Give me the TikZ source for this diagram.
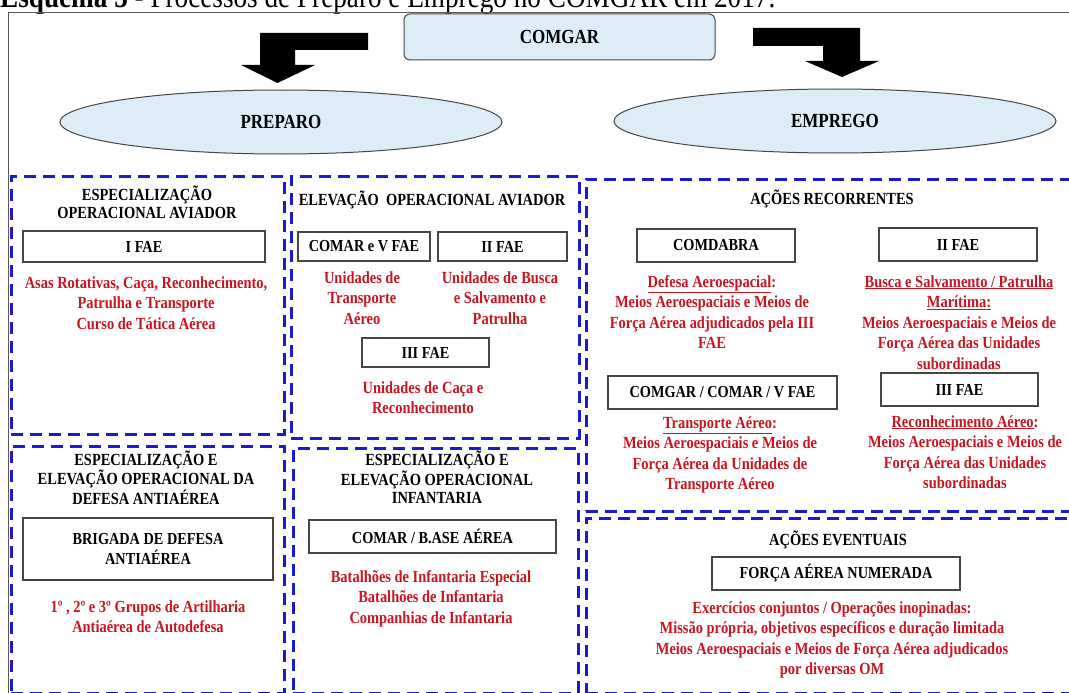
\documentclass[tikz,border=0pt]{standalone}
\usepackage{fontspec}
\setmainfont{Liberation Serif}[FakeStretch=0.85]
\usetikzlibrary{shapes.geometric}
\definecolor{dblue}{RGB}{24,28,205}
\definecolor{lblue}{RGB}{220,237,248}
\definecolor{dred}{RGB}{200,22,32}
\definecolor{bgray}{RGB}{70,70,70}
\tikzset{
  panel/.style={draw=dblue, line width=2.8pt, dash pattern=on 12pt off 7pt, inner sep=0pt, anchor=north west},
  box/.style={draw=bgray, line width=1.3pt, fill=white, inner sep=0pt, align=center, font=\bfseries\fontsize{16.8}{19.5}\selectfont},
  ttl/.style={align=center, font=\bfseries\fontsize{17}{18}\selectfont, inner sep=0pt, anchor=base},
  redtxt/.style={align=center, text=dred, font=\bfseries\fontsize{17}{20.5}\selectfont, inner sep=0pt, anchor=base},
  blob/.style={draw=bgray, fill=lblue, line width=1pt, inner sep=0pt, font=\bfseries\fontsize{20}{22}\selectfont},
}
\begin{document}
\begin{tikzpicture}[x=1pt,y=-1pt]
\useasboundingbox (0,0) rectangle (1069,693);
\fill[white] (0,0) rectangle (1069,693);
% caption (cut at the top)
\node[anchor=base west, inner sep=0pt, font=\fontsize{32}{32}\selectfont] (cap) at (0,8) {\textbf{Esquema 5} - Processos de Preparo e Emprego no COMGAR em 2017.};
% outer frame
\draw[draw=black!65, line width=1pt] (8,13) rectangle (1080,710);
% top
\node[blob, rounded corners=6pt, minimum width=311pt, minimum height=46pt] (comgar) at (559.5,37) {COMGAR};
\node[blob, ellipse, minimum width=442pt, minimum height=64pt] (preparo) at (281,122) {PREPARO};
\node[blob, ellipse, minimum width=442pt, minimum height=64pt] (emprego) at (835,121) {EMPREGO};
\fill[black] (260,33) -- (368,33) -- (368,50) -- (295,50) -- (295,65) -- (315,65) -- (277.5,83) -- (241,65) -- (260,65) -- cycle;
\fill[black] (753,28) -- (860,28) -- (860,61) -- (879,61) -- (842,77) -- (805,61) -- (823,61) -- (823,46) -- (753,46) -- cycle;
% panels
\node[panel, minimum width=273pt, minimum height=258pt] (p1) at (10,175) {};
\node[panel, minimum width=288pt, minimum height=262pt] (p2) at (290,175) {};
\node[panel, minimum width=495pt, minimum height=332pt] (p3) at (585,178) {};
\node[panel, minimum width=495pt, minimum height=175pt] (p4) at (585,517) {};
\node[panel, minimum width=273pt, minimum height=247pt] (p5) at (10,445) {};
\node[panel, minimum width=285pt, minimum height=245pt] (p6) at (292,447) {};
% panel 1
\node[ttl] (t1) at (147,218) {ESPECIALIZAÇÃO\\OPERACIONAL AVIADOR};
\node[box, minimum width=242pt, minimum height=31pt] (ifae) at (144,246.5) {I FAE};
\node[redtxt] (r1) at (146,329) {Asas Rotativas, Caça, Reconhecimento,\\Patrulha e Transporte\\Curso de Tática Aérea};
% panel 2
\node[ttl] (t2) at (432,205) {ELEVAÇÃO~~OPERACIONAL AVIADOR};
\node[box, minimum width=132pt, minimum height=29pt] (comarv) at (364,246.5) {COMAR e V FAE};
\node[box, minimum width=129pt, minimum height=29pt] (iifaeb) at (502.5,246.5) {II FAE};
\node[redtxt] (r2a) at (362,324) {Unidades de\\Transporte\\Aéreo};
\node[redtxt] (r2b) at (500,324) {Unidades de Busca\\e Salvamento e\\Patrulha};
\node[box, minimum width=127pt, minimum height=29pt] (iiifaeb) at (425.5,352.5) {III FAE};
\node[redtxt] (r2c) at (423,413.5) {Unidades de Caça e\\Reconhecimento};
% panel 3
\node[ttl] (t3) at (832,204) {AÇÕES RECORRENTES};
\node[box, minimum width=158pt, minimum height=33pt] (comdabra) at (716,245.5) {COMDABRA};
\node[box, minimum width=158pt, minimum height=33pt] (iifaec) at (958,244.5) {II FAE};
\node[redtxt] (r3a) at (712,348.5) {\underline{Defesa Aeroespacial}:\\Meios Aeroespaciais e Meios de\\Força Aérea adjudicados pela III\\FAE};
\node[redtxt] (r3b) at (959,369) {\underline{Busca e Salvamento / Patrulha}\\\underline{Marítima:}\\Meios Aeroespaciais e Meios de\\Força Aérea das Unidades\\subordinadas};
\node[box, minimum width=229pt, minimum height=33pt] (comgarc) at (722.5,392.5) {COMGAR / COMAR / V FAE};
\node[box, minimum width=157pt, minimum height=33pt] (iiifaec) at (959.5,389.5) {III FAE};
\node[redtxt] (r3c) at (720,489.5) {\underline{Transporte Aéreo}:\\Meios Aeroespaciais e Meios de\\Força Aérea da Unidades de\\Transporte Aéreo};
\node[redtxt] (r3d) at (965,488.5) {\underline{Reconhecimento Aéreo}:\\Meios Aeroespaciais e Meios de\\Força Aérea das Unidades\\subordinadas};
% panel 4
\node[ttl] (t4) at (838,545) {AÇÕES EVENTUAIS};
\node[box, minimum width=248pt, minimum height=33pt] (fan) at (836,573.5) {FORÇA AÉREA NUMERADA};
\node[redtxt] (r4) at (832,674.5) {Exercícios conjuntos / Operações inopinadas:\\Missão própria, objetivos específicos e duração limitada\\Meios Aeroespaciais e Meios de Força Aérea adjudicados\\por diversas OM};
% panel 5
\node[ttl] (t5) at (146,504) {ESPECIALIZAÇÃO E\\ELEVAÇÃO OPERACIONAL DA\\DEFESA ANTIAÉREA};
\node[box, minimum width=250pt, minimum height=62pt] (brigada) at (148,549) {BRIGADA DE DEFESA\\ANTIAÉREA};
\node[redtxt] (r5) at (148,632.5) {1º , 2º e 3º Grupos de Artilharia\\Antiaérea de Autodefesa};
% panel 6
\node[ttl] (t6) at (437,503) {ESPECIALIZAÇÃO E\\ELEVAÇÃO OPERACIONAL\\INFANTARIA};
\node[box, minimum width=247pt, minimum height=33pt] (comarbase) at (432.5,536.5) {COMAR / B.ASE AÉREA};
\node[redtxt] (r6) at (431,623) {Batalhões de Infantaria Especial\\Batalhões de Infantaria\\Companhias de Infantaria};
\end{tikzpicture}
\end{document}
